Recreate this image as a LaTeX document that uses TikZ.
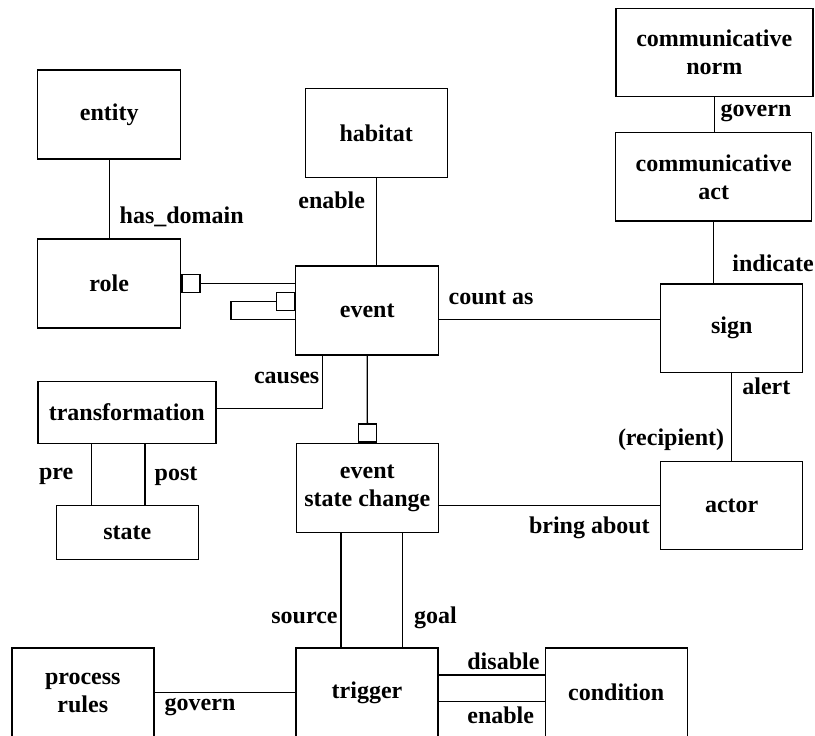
\documentclass[tikz,border=0pt]{standalone}
\usepackage{fontspec}
\setmainfont{Liberation Serif}
\usetikzlibrary{positioning,calc}

\tikzset{
  box/.style={draw, align=center, inner sep=0pt, minimum width=142pt, minimum height=89pt},
  sq/.style={draw, inner sep=0pt, minimum size=18pt},
  lab/.style={inner sep=0pt, anchor=west},
}

\begin{document}
\begin{tikzpicture}[x=1pt,y=-1pt,line width=1.4pt,font=\fontsize{24}{28}\selectfont\bfseries]
\useasboundingbox (0,0) rectangle (815,736);

% boxes
\node[box, minimum width=143pt] (entity) at (109.2,114.5) {entity};
\node[box, minimum width=143pt] (role) at (109.2,283.5) {role};
\node[box] (habitat) at (376.2,132.8) {habitat};
\node[box, minimum width=143pt] (event) at (367.2,310.4) {event};
\node[box, minimum width=178pt, minimum height=61.6pt] (trans) at (126.8,412.5) {transformation};
\node[box, minimum height=53.6pt] (state) at (127.3,532.5) {state};
\node[box] (esc) at (367.3,488) {event\\state change};
\node[box, minimum width=197pt, minimum height=88.4pt] (norm) at (714.3,52.5) {communicative\\norm};
\node[box, minimum width=196pt, minimum height=88.3pt] (act) at (713.7,176.8) {communicative\\act};
\node[box, minimum height=88.3pt] (sign) at (731.7,328.2) {sign};
\node[box, minimum height=87.6pt] (actor) at (731.7,505.5) {actor};
\node[box] (rules) at (82.8,692.5) {process\\rules};
\node[box] (trigger) at (367,692.5) {trigger};
\node[box] (cond) at (616.2,692.5) {condition};

% little squares
\node[sq, anchor=west] (rolesq) at (role.east) {};
\node[sq, anchor=east] (selfsq) at ([yshift=9pt]event.west) {};
\node[sq, anchor=south] (escsq) at (esc.north) {};

% connectors
\draw (entity) -- (role);
\draw (habitat) -- (habitat |- event.north);
\draw (rolesq) -- (rolesq -| event.west);
\draw (selfsq.west) -- ++(-44.5,0) |- ([yshift=-9pt]event.west);
\draw ([yshift=4.2pt]trans.east) -| ([xshift=-44.5pt]event.south);
\draw (event.south) -- (escsq.north);
\draw ([yshift=-9pt]event.east) coordinate (ca) -- (ca -| sign.west);
\draw (norm.south) -- (norm.south |- act.north);
\draw (act.south) -- (act.south |- sign.north);
\draw (sign) -- (actor);
\draw (actor.west) -- (actor.west -| esc.east);
\draw ([xshift=-26.5pt]esc.south) -- ([xshift=-26.5pt]esc.south |- trigger.north);
\draw ([xshift=35.4pt]esc.south) -- ([xshift=35.4pt]esc.south |- trigger.north);
\draw ([xshift=-35.1pt]trans.south) -- ([xshift=-35.1pt]trans.south |- state.north);
\draw ([xshift=18.2pt]trans.south) -- ([xshift=18.2pt]trans.south |- state.north);
\draw (rules) -- (trigger);
\draw ([yshift=17.5pt]trigger.east) -- ([yshift=17.5pt]trigger.east -| cond.west);
\draw ([yshift=-9.2pt]trigger.east) -- ([yshift=-9.2pt]trigger.east -| cond.west);

% labels
\node[lab] (l1) at (119,217) {has\_domain};
\node[lab] (l2) at (297.7,200) {enable};
\node[lab] (l3) at (448,298.3) {count as};
\node[lab] (l4) at (253.3,378.3) {causes};
\node[lab] (l5) at (38.3,476.7) {pre};
\node[lab] (l6) at (154,476.7) {post};
\node[lab] (l7) at (720,113.3) {govern};
\node[lab] (l8) at (731.7,263.3) {indicate};
\node[lab] (l9) at (741.7,386.7) {alert};
\node[lab] (l10) at (617.3,440) {(recipient)};
\node[lab] (l11) at (528.3,528.3) {bring about};
\node[lab, anchor=east] (l12) at (338.3,618) {source};
\node[lab] (l13) at (413.3,618) {goal};
\node[lab] (l14) at (164,706.7) {govern};
\node[lab] (l15) at (466.7,661.7) {disable};
\node[lab] (l16) at (466.7,715) {enable};
\end{tikzpicture}
\end{document}
